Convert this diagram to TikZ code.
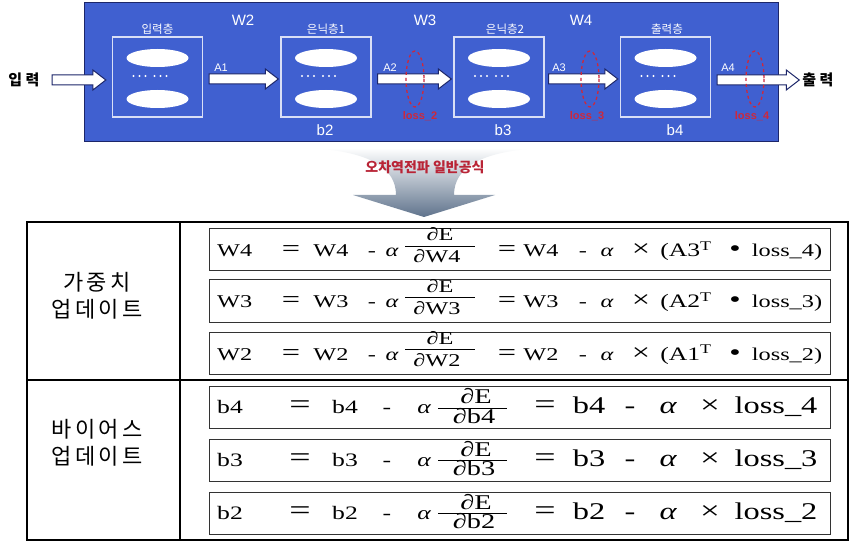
\documentclass[tikz,border=0pt]{standalone}
\usepackage{fontspec}
\setmainfont{Liberation Sans}
\newfontfamily\kr{Noto Sans CJK KR}
\newfontfamily\krsp[LetterSpace=15]{Noto Sans CJK KR}
\newfontfamily\eqf[FakeStretch=1.35]{Liberation Serif}
\usetikzlibrary{positioning,calc}
\definecolor{netblue}{RGB}{64,96,208}
\definecolor{netedge}{RGB}{28,38,105}
\definecolor{lossred}{RGB}{205,40,60}
\definecolor{slate}{RGB}{95,115,140}
\newcommand\flowarrow[2]{%
  \draw[flow] let \p1=(#1), \p2=(#2) in
    (\x1,\y1+5) -- (\x2-13,\y1+5) -- (\x2-13,\y1+10) -- (\x2,\y1) --
    (\x2-13,\y1-10) -- (\x2-13,\y1-5) -- (\x1,\y1-5) -- cycle;}
\begin{document}
\begin{tikzpicture}[x=1pt, y=-1pt,
    layer/.style={draw=white!80!netblue, line width=1.3pt, minimum width=90, minimum height=80, inner sep=0},
    flow/.style={draw=netedge, fill=white, line width=1pt, line join=miter},
    wlabel/.style={white, inner sep=0, font=\fontsize{15}{15}\selectfont},
    alabel/.style={white, inner sep=0, font=\fontsize{11}{11}\selectfont},
    lname/.style={white, inner sep=0, font=\kr\fontsize{11.5}{11.5}\selectfont},
    iolabel/.style={inner sep=0, font=\kr\bfseries\fontsize{15}{15}\selectfont},
    lossring/.style={draw=lossred, dashed, line width=1.3pt},
    losslabel/.style={lossred, inner sep=0, font=\bfseries\fontsize{11}{11}\selectfont},
    tlabel/.style={align=center, inner sep=0, font=\krsp\fontsize{22}{27}\selectfont},
    eqbox/.style={draw=black!80, line width=1pt, fill=white, minimum width=621, minimum height=42, inner sep=0},
    eqtxt/.style={anchor=base, inner sep=0, font=\eqf\fontsize{18}{18}\selectfont},
    fracline/.style={line width=0.6pt}]
    \useasboundingbox (0,0) rectangle (851,545);
    \fill[white] (0,0) rectangle (851,545);
    % Network
    \draw[netedge, fill=netblue, line width=1pt] (84,3) rectangle (778,142);
    \node[layer] (inp)  at (157.5,77) {};
    \node[layer] (hid1) at (326,77) {};
    \node[layer] (hid2) at (499,77) {};
    \node[layer] (outp) at (665.5,77) {};
    \foreach \n in {inp, hid1, hid2, outp}
    {
        \fill[white] ($(\n)+(0,-19)$) ellipse [x radius=31, y radius=9];
        \fill[white] ($(\n)+(0,22)$) ellipse [x radius=31, y radius=9];
        \foreach \d in {-24,-18,-12,-3,3,9}
            \fill[white] ($(\n)+(\d,-1)$) circle (1.1);
    }
    \node[lname] at (157.5,29) {입력층};
    \node[lname] at (326,29) {은닉층1};
    \node[lname] at (505,29) {은닉층2};
    \node[lname] at (667,29) {출력층};
    \node[wlabel] at (243,20) {W2};
    \node[wlabel] at (425,20) {W3};
    \node[wlabel] at (581,20) {W4};
    \node[wlabel] at (325,130) {b2};
    \node[wlabel] at (503,130) {b3};
    \node[wlabel] at (675,130) {b4};
    % Arrows
    \node[iolabel] (inlbl) at (24,80) {입 력};
    \node[iolabel] (outlbl) at (818,80) {출 력};
    \coordinate (inA) at (52,80);
    \flowarrow{inA}{$(inp.west)+(-6,0)$}
    \flowarrow{$(inp.east)+(6,2)$}{$(hid1.west)+(-2,0)$}
    \flowarrow{$(hid1.east)+(6,2)$}{$(hid2.west)+(-2,0)$}
    \flowarrow{$(hid2.east)+(4,2)$}{$(outp.west)+(-2,0)$}
    \flowarrow{$(outp.east)+(6,3)$}{$(outlbl.west)+(-3,0)$}
    \node[alabel] at (221,68) {A1};
    \node[alabel] at (390,68) {A2};
    \node[alabel] at (559,68) {A3};
    \node[alabel] at (728,68) {A4};
    % Loss
    \foreach \x/\lx/\n in {415/420/2, 590/587/3, 755/752/4}
    {
        \draw[lossring] (\x,79) ellipse [x radius=9, y radius=28];
        \node[losslabel] at (\lx,116) {loss\_\n};
    }
    % Funnel
    \path[top color=white, bottom color=slate]
        (312,148) .. controls (370,152) and (396,168) .. (396,195) -- (353,195) -- (424,217)
        -- (495,195) -- (454,195) .. controls (454,168) and (480,152) .. (538,148) -- cycle;
    \node[lossred!90!black, inner sep=0, font=\kr\bfseries\fontsize{14}{14}\selectfont] (title) at (425,167) {오차역전파 일반공식};
    % Table
    \draw[line width=1.2pt] (27,222) rectangle (848,540);
    \draw[line width=1.2pt] (180,222) -- (180,540);
    \draw[line width=2.5pt] (27,380) -- (848,380);
    \node[tlabel] (wlbl) at (97,296) {가중치\\업데이트};
    \node[tlabel] (blbl) at (97,443) {바이어스\\업데이트};
    % Weight rows
    \foreach \c/\w/\a/\l in {249.5/W4/A3/4, 301/W3/A2/3, 353/W2/A1/2}
    {
        \node[eqbox] (eq\w) at (519.5,\c) {};
        \node[eqtxt, anchor=base west] at (217,\c+7) {\w};
        \foreach \x/\s/\t in {291/24/{=}, 331/18/{\w}, 372/18/{-}, 392/18/{\itshape α}, 507/24/{=},
                              541/18/{\w}, 583/18/{-}, 607/18/{\itshape α}, 641/24/{×},
                              686/19/{(\a\textsuperscript{T}}, 735/24/{•}, 787/18/{loss\_\l)}}
            \node[eqtxt, font=\eqf\fontsize{\s}{\s}\selectfont] at (\x,\c+7) {\t};
        \draw[fracline] (405,\c-3.5) -- (475,\c-3.5);
        \node[eqtxt] at (440,\c-8.5) {∂E};
        \node[eqtxt] at (437,\c+13.5) {∂\w};
    }
    % Bias rows
    \foreach \c/\w/\l in {407.5/b4/4, 460/b3/3, 513/b2/2}
    {
        \node[eqbox] (eq\w) at (519.5,\c) {};
        \node[eqtxt, anchor=base west, font=\eqf\fontsize{19}{19}\selectfont] at (217,\c+6) {\w};
        \foreach \x/\s/\t in {300/28/{=}, 345/19/{\w}, 387/19/{-}, 424/19/{\itshape α}, 545/28/{=},
                              589/24/{\w}, 630/24/{-}, 668/24/{\itshape α}, 710/26/{×}, 776/24/{loss\_\l}}
            \node[eqtxt, font=\eqf\fontsize{\s}{\s}\selectfont] at (\x,\c+6) {\t};
        \draw[fracline] (438,\c+0.5) -- (507,\c+0.5);
        \node[eqtxt, font=\eqf\fontsize{21}{21}\selectfont] at (476,\c-4) {∂E};
        \node[eqtxt, font=\eqf\fontsize{21}{21}\selectfont] at (474,\c+15.5) {∂\w};
    }
\end{tikzpicture}
\end{document}
